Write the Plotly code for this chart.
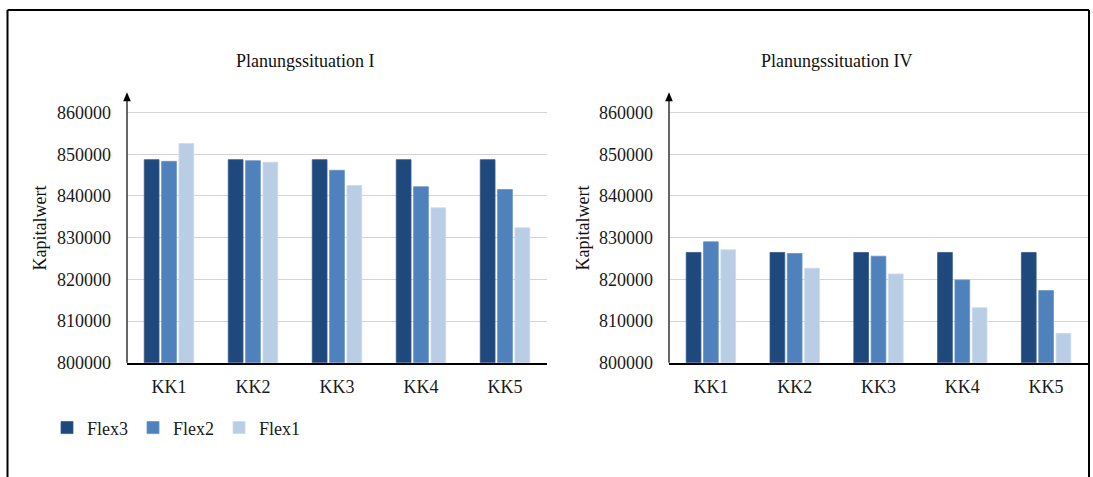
import plotly.graph_objects as go

# Categories and series values (Kapitalwert)
categories = ["KK1", "KK2", "KK3", "KK4", "KK5"]
series_names = ["Flex3", "Flex2", "Flex1"]

ps1_flex3 = [848700, 848700, 848700, 848700, 848700]
ps1_flex2 = [848300, 848450, 846150, 842200, 841550]
ps1_flex1 = [852600, 848100, 842500, 837150, 832350]

ps4_flex3 = [826450, 826450, 826450, 826450, 826450]
ps4_flex2 = [829000, 826200, 825550, 819850, 817300]
ps4_flex1 = [827100, 822650, 821300, 813200, 807050]

panel_titles = ["Planungssituation I", "Planungssituation IV"]
y_title = "Kapitalwert"
y_ticks = [800000, 810000, 820000, 830000, 840000, 850000, 860000]

colors = {"Flex3": "#1F497D", "Flex2": "#4F81BD", "Flex1": "#B9CDE5"}
edge = {"Flex3": "#33598A", "Flex2": "#6690C6", "Flex1": "#CBDAEC"}

W, H = 1093, 488
GRID_H = 477  # vertical layout grid used for the positions below
FONT = "Liberation Serif"
FS = 18


def px_x(p):
    return p / W


def px_y(p):
    return 1 - p / GRID_H


fig = go.Figure()

panels = [
    ("x", "y", [ps1_flex3, ps1_flex2, ps1_flex1], True),
    ("x2", "y2", [ps4_flex3, ps4_flex2, ps4_flex1], False),
]
for xa, ya, vals, show in panels:
    for name, v in zip(series_names, vals):
        fig.add_trace(go.Bar(
            x=categories, y=v, name=name, xaxis=xa, yaxis=ya,
            marker=dict(color=colors[name], line=dict(color=edge[name], width=0.8)),
            showlegend=show,
        ))

y_range = [800000, 864640]
plot_top, plot_bottom = 93, 362
ydom = [px_y(plot_bottom), px_y(plot_top)]
x_domains = [(127, 547), (669, 1088)]

common_y = dict(
    range=y_range, tickvals=y_ticks, tickformat="d",
    showgrid=True, gridcolor="#D4D4D4", gridwidth=1,
    zeroline=False, showline=False, ticks="",
    tickfont=dict(family=FONT, size=FS, color="#1a1a1a"),
    ticklabelstandoff=15, domain=ydom,
)
common_x = dict(
    showline=True, linecolor="#000000", linewidth=2,
    showgrid=False, ticks="", zeroline=False,
    tickfont=dict(family=FONT, size=FS, color="#1a1a1a"),
    ticklabelstandoff=7,
)

fig.update_layout(
    width=W, height=H,
    margin=dict(l=0, r=0, t=0, b=0),
    paper_bgcolor="white", plot_bgcolor="white",
    barmode="group", bargap=0.38, bargroupgap=0.15,
    xaxis=dict(domain=[px_x(x_domains[0][0]), px_x(x_domains[0][1])], anchor="y", **common_x),
    yaxis=dict(anchor="x", **common_y),
    xaxis2=dict(domain=[px_x(x_domains[1][0]), px_x(x_domains[1][1])], anchor="y2", **common_x),
    yaxis2=dict(anchor="x2", **common_y),
    legend=dict(
        orientation="h", x=px_x(47), y=px_y(427), yanchor="middle", xanchor="left",
        font=dict(family=FONT, size=FS, color="#1a1a1a"),
        bgcolor="rgba(0,0,0,0)", itemclick=False,
    ),
    font=dict(family=FONT, size=FS, color="#1a1a1a"),
)

shapes = []
annotations = []

# vertical axis lines with arrow heads
for x0, x1 in x_domains:
    shapes.append(dict(type="line", xref="paper", yref="paper",
                       x0=px_x(x0), x1=px_x(x0), y0=px_y(plot_bottom), y1=px_y(plot_top + 6),
                       line=dict(color="#404040", width=1.6)))
    shapes.append(dict(type="path", xref="paper", yref="paper",
                       path=f"M {px_x(x0 - 3.8)} {px_y(plot_top + 8)} L {px_x(x0 + 3.8)} {px_y(plot_top + 8)} "
                            f"L {px_x(x0)} {px_y(plot_top - 1)} Z",
                       fillcolor="#000000", line=dict(width=0)))

# panel titles
for title, cx in zip(panel_titles, [305.5, 837]):
    annotations.append(dict(text=title, xref="paper", yref="paper", x=px_x(cx), y=px_y(61),
                            xanchor="center", yanchor="middle", showarrow=False,
                            font=dict(family=FONT, size=FS, color="#111111")))

# y axis titles
for cx in [40, 583]:
    annotations.append(dict(text=y_title, xref="paper", yref="paper", x=px_x(cx), y=px_y(228),
                            xanchor="center", yanchor="middle", showarrow=False, textangle=-90,
                            font=dict(family=FONT, size=FS, color="#111111")))

# frame around the figure
shapes.append(dict(type="line", xref="paper", yref="paper", x0=px_x(7.5), x1=px_x(7.5), y0=0, y1=px_y(10),
                   line=dict(color="#000000", width=2)))
shapes.append(dict(type="line", xref="paper", yref="paper", x0=px_x(7.5), x1=px_x(1089), y0=px_y(10), y1=px_y(10),
                   line=dict(color="#000000", width=2)))
shapes.append(dict(type="line", xref="paper", yref="paper", x0=px_x(1089), x1=px_x(1089), y0=0, y1=px_y(10),
                   line=dict(color="#000000", width=2)))

fig.update_layout(shapes=shapes, annotations=annotations)

fig.write_html("out.html")
